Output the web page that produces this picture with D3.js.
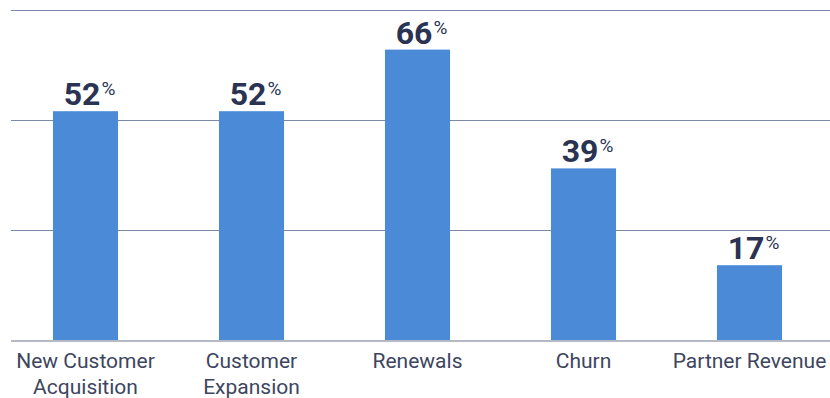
<!DOCTYPE html>
<html>
<head>
<meta charset="utf-8">
<script src="https://cdn.jsdelivr.net/npm/d3@7"></script>
<style>
  html, body { margin: 0; padding: 0; background: #fff; }
  svg { display: block; font-family: Roboto, "Noto Sans", sans-serif; }
</style>
</head>
<body>
<svg id="chart" width="830" height="398"></svg>
<script>
// Share of revenue impact by motion (percent)
const categories = [
  ["New Customer", "Acquisition"],
  ["Customer", "Expansion"],
  ["Renewals"],
  ["Churn"],
  ["Partner Revenue"]
];
const values = [52, 52, 66, 39, 17];
const gridTicks = [25, 50, 75];

const svg = d3.select("#chart");
const W = 830;

const x = d3.scaleBand()
  .domain(d3.range(values.length))
  .range([2.5, 832.5])
  .paddingInner(0.608)
  .paddingOuter(0.304);

const y = d3.scaleLinear().domain([0, 75]).range([340, 10]);

// horizontal gridlines
svg.append("g")
  .selectAll("line")
  .data(gridTicks)
  .join("line")
  .attr("x1", 11).attr("x2", W)
  .attr("y1", d => Math.round(y(d)) + 0.5)
  .attr("y2", d => Math.round(y(d)) + 0.5)
  .attr("stroke", "#7d88a6")
  .attr("stroke-width", 1);

// bars
svg.append("g")
  .selectAll("rect")
  .data(values)
  .join("rect")
  .attr("x", (d, i) => x(i))
  .attr("width", x.bandwidth())
  .attr("y", d => y(d))
  .attr("height", d => y(0) - y(d))
  .attr("fill", "#4b8ad7");

// baseline
svg.append("line")
  .attr("x1", 11).attr("x2", W)
  .attr("y1", y(0) + 1).attr("y2", y(0) + 1)
  .attr("stroke", "#b5b9c6")
  .attr("stroke-width", 2);

// value labels with raised percent sign
const lbl = svg.append("g")
  .selectAll("text")
  .data(values)
  .join("text")
  .attr("x", (d, i) => x(i) + x.bandwidth() / 2 + 4)
  .attr("y", d => y(d) - 6)
  .attr("text-anchor", "middle")
  .attr("fill", "#2a3352");
lbl.append("tspan")
  .attr("font-size", 32)
  .attr("font-weight", 700)
  .text(d => d);
lbl.append("tspan")
  .attr("font-size", 19)
  .attr("font-weight", 400)
  .attr("dx", 1)
  .attr("dy", -10)
  .text("%");

// category labels
const cat = svg.append("g")
  .selectAll("text")
  .data(categories)
  .join("text")
  .attr("x", (d, i) => x(i) + x.bandwidth() / 2)
  .attr("y", 368)
  .attr("text-anchor", "middle")
  .attr("font-size", 21)
  .attr("fill", "#3d4560");
cat.selectAll("tspan")
  .data(d => d)
  .join("tspan")
  .attr("x", function () { return d3.select(this.parentNode).attr("x"); })
  .attr("dy", (d, j) => j === 0 ? 0 : 26)
  .text(d => d);
</script>
</body>
</html>
